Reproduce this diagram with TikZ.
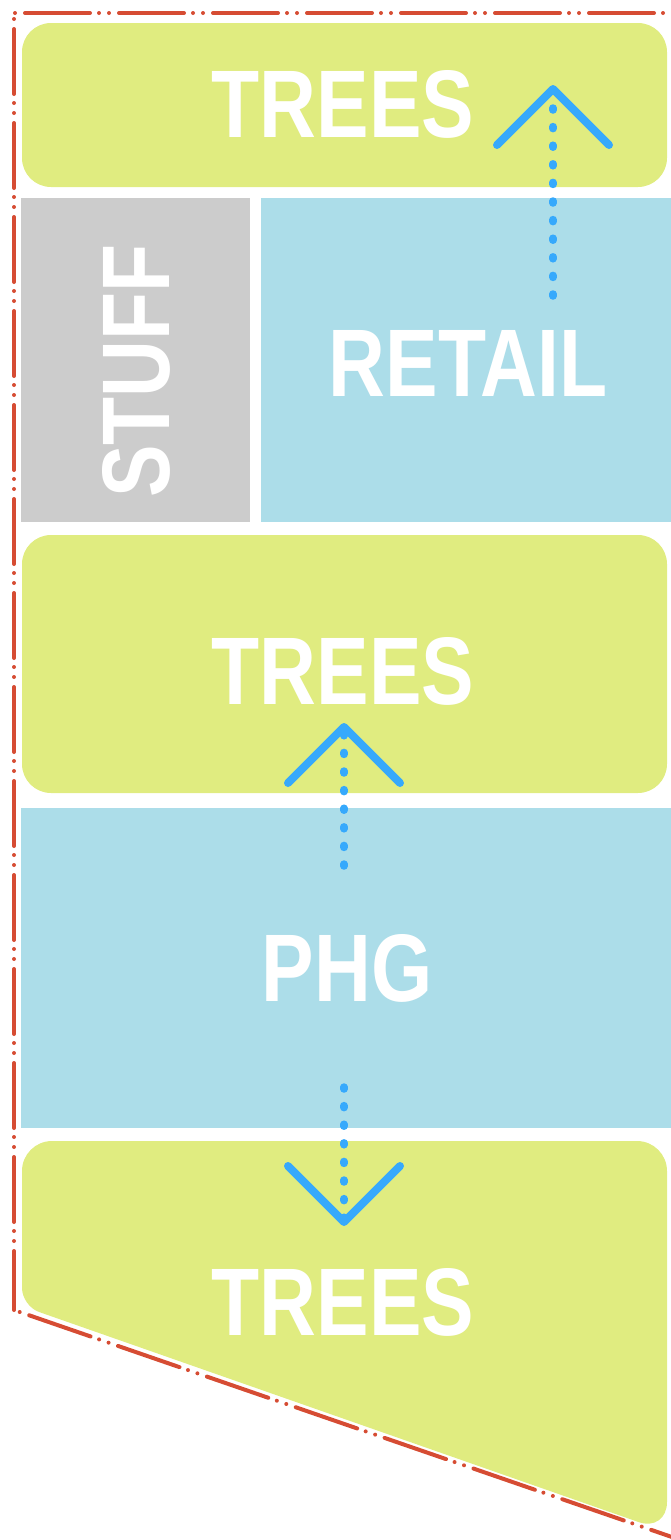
\documentclass[tikz,border=0pt]{standalone}
\usepackage{fontspec}
\newfontfamily\lblfont{Liberation Sans}[FakeStretch=0.82]
\usetikzlibrary{arrows.meta,calc}
\definecolor{treegreen}{HTML}{E0EC80}
\definecolor{boxblue}{HTML}{ACDDE9}
\definecolor{boxgray}{HTML}{CCCCCC}
\definecolor{flowblue}{HTML}{36A9FC}
\definecolor{borderred}{HTML}{D64C33}
\tikzset{
  box/.style={rectangle, inner sep=0pt, outer sep=0pt, draw=none},
  treebox/.style={box, fill=treegreen, rounded corners=29pt},
  bluebox/.style={box, fill=boxblue},
  graybox/.style={box, fill=boxgray},
  lbl/.style={inner sep=0pt, text=white, font=\lblfont\bfseries\fontsize{96pt}{96pt}\selectfont},
  border/.style={draw=borderred, line width=4pt, line cap=round,
    dash pattern=on 0pt off 10pt on 65pt off 9pt on 0pt off 10pt},
  flow/.style={draw=flowblue, line width=7.5pt, line cap=round,
    dash pattern=on 2pt off 16.6pt,
    -{Straight Barb[length=56pt, width=112pt, line width=8pt, round]}},
}
\begin{document}
\begin{tikzpicture}[x=1pt,y=-1pt]
\path[use as bounding box] (0,0) rectangle (671,1540);

% boxes
\node[treebox, minimum width=645pt, minimum height=164pt] (trees1) at (344.5,105) {};
\node[graybox, minimum width=229pt, minimum height=324pt] (stuff) at (135.5,360) {};
\node[bluebox, minimum width=410pt, minimum height=324pt] (retail) at (466,360) {};
\node[treebox, minimum width=645pt, minimum height=258pt] (trees2) at (344.5,664) {};
\node[bluebox, minimum width=650pt, minimum height=320pt] (phg) at (346,968) {};
\fill[treegreen] (22,1230) [rounded corners=30pt] -- (22,1141) -- (667,1141) -- (667,1532)
   [rounded corners=18pt] -- (22,1306) -- cycle;
\coordinate (trees3) at (344.5,1230);

% labels
\node[lbl] (trees1lbl) at (343,104) {TREES};
\node[lbl, rotate=90] (stufflbl) at (136,371) {STUFF};
\node[lbl] (retaillbl) at (468,363) {RETAIL};
\node[lbl] (trees2lbl) at (343,671) {TREES};
\node[lbl] (phglbl) at (347,968) {PHG};
\node[lbl] (trees3lbl) at (343,1302) {TREES};

% flows
\coordinate (f1s) at (553,296);  \coordinate (f1e) at (553,85);
\coordinate (f2s) at (344,866);  \coordinate (f2e) at (344,723);
\coordinate (f3s) at (344,1087); \coordinate (f3e) at (344,1226);
\draw[flow] (f1s) -- (f1e);
\draw[flow] (f2s) -- (f2e);
\draw[flow] (f3s) -- (f3e);

% dash-dot outline
\coordinate (btl) at (15,13);
\coordinate (btr) at (690,13);
\coordinate (bl1) at (14,19);
\coordinate (bbl) at (14,1310);
\coordinate (bd1) at (19.7,1312);
\coordinate (bbr) at (700,1546.7);
\draw[border] (btl) -- (btr);
\draw[border] (bl1) -- (bbl);
\draw[border] (bd1) -- (bbr);
\end{tikzpicture}
\end{document}
